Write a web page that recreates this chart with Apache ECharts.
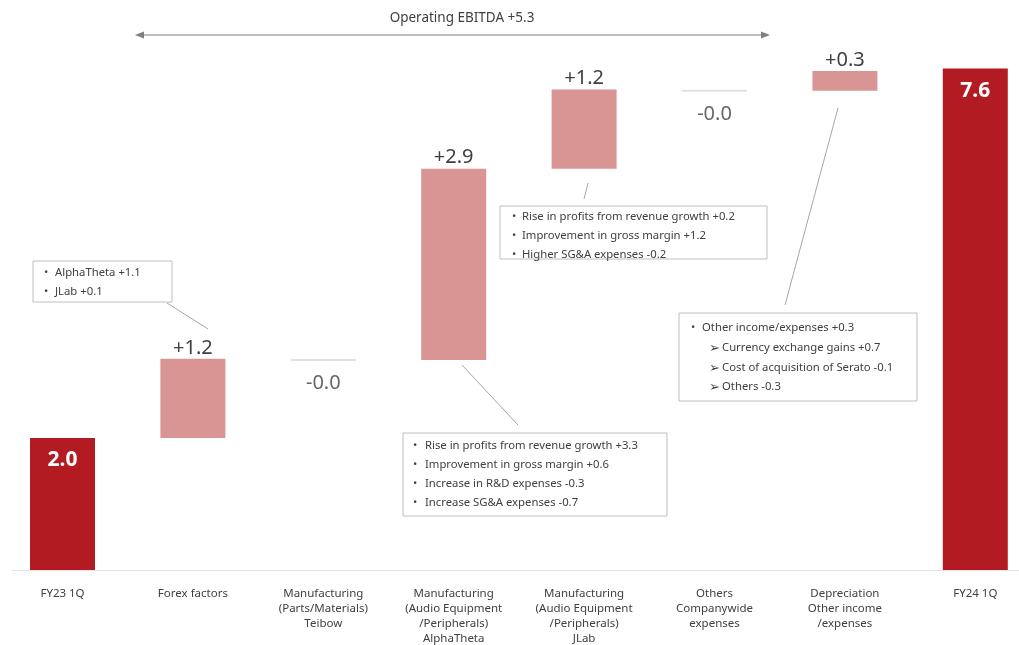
<!DOCTYPE html>
<html>
<head>
<meta charset="utf-8">
<script src="https://cdn.jsdelivr.net/npm/echarts@6/dist/echarts.min.js"></script>
<style>html,body{margin:0;padding:0;background:#fff;}#c{width:1019px;height:645px;}</style>
</head>
<body>
<div id="c"></div>
<script>
const categories = [
  'FY23 1Q',
  'Forex factors',
  'Manufacturing\n(Parts/Materials)\nTeibow',
  'Manufacturing\n(Audio Equipment\n/Peripherals)\nAlphaTheta',
  'Manufacturing\n(Audio Equipment\n/Peripherals)\nJLab',
  'Others\nCompanywide\nexpenses',
  'Depreciation\nOther income\n/expenses',
  'FY24 1Q'
];
const startValue = 2.0;
const endValue = 7.6;
// changes for the middle categories (index 1..6)
const deltas = [1.2, -0.02, 2.9, 1.2, -0.02, 0.3];

const FONT = 'Noto Sans';
const TXT = '#404040';
const DARK = '#B31B23';
const PINK = '#D99594';

// build waterfall series from the arrays
const n = categories.length;
const baseData = new Array(n).fill('-');
const deltaData = new Array(n).fill('-');
const totalData = new Array(n).fill('-');
const flatData = [];
totalData[0] = startValue;
totalData[n - 1] = endValue;
let cum = startValue;
deltas.forEach((d, i) => {
  const idx = i + 1;
  if (Math.abs(d) < 0.05) {
    flatData.push({ value: [idx, cum + d], raw: d });
    cum += d;
  } else {
    const low = d >= 0 ? cum : cum + d;
    baseData[idx] = low;
    deltaData[idx] = { value: Math.abs(d), raw: d };
    cum += d;
  }
});
const fmt = v => (v >= 0 ? '+' : '-') + Math.abs(v).toFixed(1);

const chart = echarts.init(document.getElementById('c'));

const BOXFS = 11.3;
function box(x, y, w, h, lines) {
  const els = [{
    type: 'rect', shape: { x: x, y: y, width: w, height: h },
    style: { fill: '#fff', stroke: '#BFBFBF', lineWidth: 1 }
  }];
  lines.forEach(l => {
    if (l.bullet) {
      els.push({ type: 'text', x: l.bx, y: l.y, style: { text: l.bullet, fill: TXT, font: (l.bfs || BOXFS) + 'px ' + FONT, textVerticalAlign: 'middle' } });
    }
    els.push({ type: 'text', x: l.tx, y: l.y, style: { text: l.t, fill: TXT, font: BOXFS + 'px ' + FONT, textVerticalAlign: 'middle' } });
  });
  return els;
}
function conn(x1, y1, x2, y2) {
  return { type: 'line', shape: { x1, y1, x2, y2 }, style: { stroke: '#A6A6A6', lineWidth: 1 } };
}

const graphics = [].concat(
  // Operating EBITDA arrow
  [
    { type: 'text', x: 462, y: 18, style: { text: 'Operating EBITDA +5.3', fill: TXT, font: '13.5px ' + FONT, textAlign: 'center', textVerticalAlign: 'middle' } },
    { type: 'line', shape: { x1: 142, y1: 35, x2: 763, y2: 35 }, style: { stroke: '#7F7F7F', lineWidth: 1.2 } },
    { type: 'polygon', shape: { points: [[135, 35], [144, 31.5], [144, 38.5]] }, style: { fill: '#7F7F7F' } },
    { type: 'polygon', shape: { points: [[770, 35], [761, 31.5], [761, 38.5]] }, style: { fill: '#7F7F7F' } }
  ],
  // box forex
  box(33, 261, 139, 41, [
    { bullet: '•', bx: 44, tx: 55, y: 273, t: 'AlphaTheta +1.1' },
    { bullet: '•', bx: 44, tx: 55, y: 292, t: 'JLab +0.1' }
  ]),
  [conn(167, 303, 208, 329)],
  // box AlphaTheta
  box(403, 433, 264, 83, [
    { bullet: '•', bx: 413, tx: 425, y: 446, t: 'Rise in profits from revenue growth +3.3' },
    { bullet: '•', bx: 413, tx: 425, y: 465, t: 'Improvement in gross margin +0.6' },
    { bullet: '•', bx: 413, tx: 425, y: 484, t: 'Increase in R&D expenses -0.3' },
    { bullet: '•', bx: 413, tx: 425, y: 503, t: 'Increase SG&A expenses -0.7' }
  ]),
  [conn(462, 365, 518, 425)],
  // box JLab
  box(500, 206, 267, 53, [
    { bullet: '•', bx: 512, tx: 522, y: 217, t: 'Rise in profits from revenue growth +0.2' },
    { bullet: '•', bx: 512, tx: 522, y: 236, t: 'Improvement in gross margin +1.2' },
    { bullet: '•', bx: 512, tx: 522, y: 255, t: 'Higher SG&A expenses -0.2' }
  ]),
  [conn(588, 183, 584, 199)],
  // box Depreciation / other
  box(679, 313, 238, 88, [
    { bullet: '•', bx: 691, tx: 702, y: 328, t: 'Other income/expenses +0.3' },
    { bullet: '➢', bx: 709, tx: 722, y: 348, t: 'Currency exchange gains +0.7', bfs: 13 },
    { bullet: '➢', bx: 709, tx: 722, y: 368, t: 'Cost of acquisition of Serato -0.1', bfs: 13 },
    { bullet: '➢', bx: 709, tx: 722, y: 387, t: 'Others -0.3', bfs: 13 }
  ]),
  [conn(838, 108, 785, 305)],
  // baseline
  [{ type: 'line', shape: { x1: 12, y1: 570.5, x2: 1019, y2: 570.5 }, style: { stroke: '#E3E3E3', lineWidth: 1.2 } }]
);

chart.setOption({
  animation: false,
  textStyle: { fontFamily: FONT },
  grid: { left: -2.7, width: 1043.2, top: 42, bottom: 75, containLabel: false, outerBoundsMode: 'none' },
  xAxis: {
    type: 'category', data: categories,
    axisLine: { show: false }, axisTick: { show: false },
    axisLabel: { interval: 0, color: TXT, fontSize: 11.5, lineHeight: 15, margin: 16, fontFamily: FONT }
  },
  yAxis: { type: 'value', min: 0, max: 8, show: false, splitLine: { show: false } },
  series: [
    { type: 'bar', stack: 'wf', data: baseData, barWidth: 65, itemStyle: { color: 'transparent' }, silent: true },
    {
      type: 'bar', stack: 'wf', data: deltaData, barWidth: 65,
      itemStyle: { color: PINK },
      label: { show: true, position: 'top', distance: 1, color: TXT, fontSize: 20, fontFamily: FONT,
        formatter: p => fmt(p.data.raw) }
    },
    {
      type: 'bar', stack: 'wf', data: totalData, barWidth: 65,
      itemStyle: { color: DARK },
      label: { show: true, position: 'insideTop', distance: 12, color: '#fff', fontSize: 21, fontWeight: 'bold', fontFamily: FONT,
        formatter: p => p.value.toFixed(1) }
    },
    {
      type: 'scatter', data: flatData, symbol: 'rect', symbolSize: [65, 2],
      itemStyle: { color: '#D9D9D9' },
      label: { show: true, position: 'bottom', distance: 12, color: TXT, fontSize: 20, fontFamily: FONT,
        formatter: p => fmt(p.data.raw) }
    }
  ],
  graphic: graphics
});
</script>
</body>
</html>
